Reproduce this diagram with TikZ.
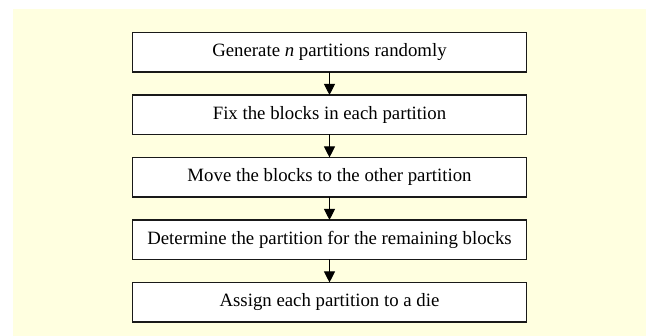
\documentclass[tikz,border=0pt]{standalone}
\usepackage{fontspec}
\setmainfont{Liberation Serif}
\usetikzlibrary{positioning,arrows.meta}
\definecolor{bgyellow}{RGB}{255,255,224}

\begin{document}
\begin{tikzpicture}[x=1pt,y=1pt,
    stepbox/.style={draw=black!90, line width=1.6pt, fill=white, outer sep=0pt,
        minimum width=394pt, minimum height=39.5pt, inner sep=0pt,
        font=\fontsize{18.8}{22}\selectfont},
    arr/.style={-{Triangle[length=11pt,width=11pt]}, line width=0.9pt},
    node distance=23pt]
    \useasboundingbox (0,0) rectangle (646,-336);
    % background
    \fill[bgyellow] (13,-9) rectangle (646,-336);
    \node[stepbox] (gen) at (329.5,-52.2) {Generate \textit{n} partitions randomly};
    \node[stepbox, below=of gen] (fix) {Fix the blocks in each partition};
    \node[stepbox, below=of fix] (move) {Move the blocks to the other partition};
    \node[stepbox, below=of move] (remain) {Determine the partition for the remaining blocks};
    \node[stepbox, below=of remain] (assign) {Assign each partition to a die};
    \draw[arr] (gen) -- (fix);
    \draw[arr] (fix) -- (move);
    \draw[arr] (move) -- (remain);
    \draw[arr] (remain) -- (assign);
\end{tikzpicture}
\end{document}
